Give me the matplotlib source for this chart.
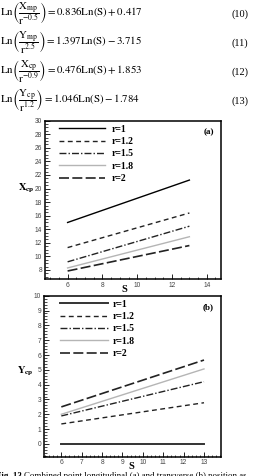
import matplotlib.pyplot as plt
from matplotlib.ticker import MultipleLocator

plt.rcParams['mathtext.fontset'] = 'stix'

# data
S = [6, 13]
labels = ['r=1', 'r=1.2', 'r=1.5', 'r=1.8', 'r=2']
xcp = [[15.0, 21.25], [11.3, 16.4], [9.2, 14.45], [8.3, 12.9], [7.85, 11.6]]
ycp = [[0.0, 0.0], [1.35, 2.78], [1.89, 4.2], [2.0, 5.06], [2.5, 5.66]]

equations = [
    (r'$\mathrm{Ln}\left(\dfrac{\mathrm{X_{mp}}}{\mathrm{r}^{-0.5}}\right) = 0.836\mathrm{Ln(S)} + 0.417$', '(10)'),
    (r'$\mathrm{Ln}\left(\dfrac{\mathrm{Y_{mp}}}{\mathrm{r}^{2.5}}\right) = 1.397\mathrm{Ln(S)} - 3.715$', '(11)'),
    (r'$\mathrm{Ln}\left(\dfrac{\mathrm{X_{cp}}}{\mathrm{r}^{-0.9}}\right) = 0.476\mathrm{Ln(S)} + 1.853$', '(12)'),
    (r'$\mathrm{Ln}\left(\dfrac{\mathrm{Y_{cp}}}{\mathrm{r}^{1.2}}\right) = 1.046\mathrm{Ln(S)} - 1.784$', '(13)'),
]

styles = [
    dict(color='black', ls='-', lw=1.0),
    dict(color='#222222', ls=(0, (3.5, 2.5)), lw=1.0),
    dict(color='#222222', ls=(0, (5, 1.5, 1, 1.5)), lw=1.0),
    dict(color='#b5b5b5', ls='-', lw=1.0),
    dict(color='#222222', ls=(0, (6, 2)), lw=1.2),
]

W, H = 263, 476
fig = plt.figure(figsize=(W / 100, H / 100), dpi=100)


def px(x, y):
    return x / W, 1 - y / H


def add_ax(l, t, r, b):
    return fig.add_axes([l / W, 1 - b / H, (r - l) / W, (b - t) / H])


serif = ['Liberation Serif', 'DejaVu Serif']

# equations at top
for i, (eq, num) in enumerate(equations):
    y = 14 + i * 29
    fig.text(*px(0, y), eq, fontsize=7.8, ha='left', va='center')
    fig.text(*px(240, y), num, fontsize=7.5, ha='center', va='center', family=serif)


def setup(ax, xlim, ylim, xmaj, xmin, ymaj, ymin):
    ax.set_xlim(*xlim)
    ax.set_ylim(*ylim)
    ax.xaxis.set_major_locator(MultipleLocator(xmaj))
    ax.xaxis.set_minor_locator(MultipleLocator(xmin))
    ax.yaxis.set_major_locator(MultipleLocator(ymaj))
    ax.yaxis.set_minor_locator(MultipleLocator(ymin))
    ax.tick_params(which='both', direction='in', top=False, right=False,
                   colors='black', labelcolor='#444444', labelsize=4.8, pad=2)
    ax.tick_params(which='major', length=3.5, width=0.6)
    ax.tick_params(which='minor', length=1.8, width=0.5)
    for lab in ax.get_xticklabels() + ax.get_yticklabels():
        lab.set_family('Liberation Sans')
    for sp in ax.spines.values():
        sp.set_linewidth(1.1)


# (a)
ax1 = add_ax(45, 120.7, 220.7, 279)
for vals, lab, st in zip(xcp, labels, styles):
    ax1.plot(S, vals, label=lab, **st)
setup(ax1, (4.7, 14.8), (6.67, 30), 2, 0.5, 2, 0.5)
ax1.legend(loc='upper left', bbox_to_anchor=(0.08, 0.975), frameon=False,
           borderpad=0, borderaxespad=0, handlelength=4.7, handletextpad=0.7,
           labelspacing=0.35, prop=dict(family=serif, weight='bold', size=7))
ax1.text(0.935, 0.93, '(a)', transform=ax1.transAxes, ha='center', va='center',
         family=serif, weight='bold', fontsize=6.5)

# (b)
ax2 = add_ax(44, 295.7, 220.7, 456.7)
for vals, lab, st in zip(ycp, labels, styles):
    st2 = dict(st)
    if lab == 'r=1':
        st2.update(color='#333333', lw=1.4)
    ax2.plot(S, vals, label=lab, **st2)
setup(ax2, (5.15, 13.82), (-0.86, 10), 1, 0.2, 1, 0.2)
ax2.legend(loc='upper left', bbox_to_anchor=(0.09, 0.976), frameon=False,
           borderpad=0, borderaxespad=0, handlelength=4.9, handletextpad=0.5,
           labelspacing=0.35, prop=dict(family=serif, weight='bold', size=7))
ax2.text(0.93, 0.93, '(b)', transform=ax2.transAxes, ha='center', va='center',
         family=serif, weight='bold', fontsize=6.5)

# axis labels
fig.text(*px(26, 188), r'$\mathbf{X_{cp}}$', fontsize=7.5, ha='center', va='center')
fig.text(*px(25, 371), r'$\mathbf{Y_{cp}}$', fontsize=7.5, ha='center', va='center')
fig.text(*px(124, 289), 'S', family=serif, weight='bold', fontsize=7.5, ha='center', va='center')
fig.text(*px(131, 466.5), 'S', family=serif, weight='bold', fontsize=7.5, ha='center', va='center')

# caption, cut off at the bottom and left edges as in the source page
t1 = fig.text(*px(-4, 478.5), 'Fig. 13', family=serif, weight='bold', fontsize=6.4,
              ha='left', va='baseline')
fig.canvas.draw()
bb = t1.get_window_extent()
fig.text((bb.x1 + 2) / W, px(0, 478.5)[1],
         'Combined point longitudinal (a) and transverse (b) position as',
         family=serif, fontsize=6.4, ha='left', va='baseline')

fig.savefig('out.png', dpi=100)
